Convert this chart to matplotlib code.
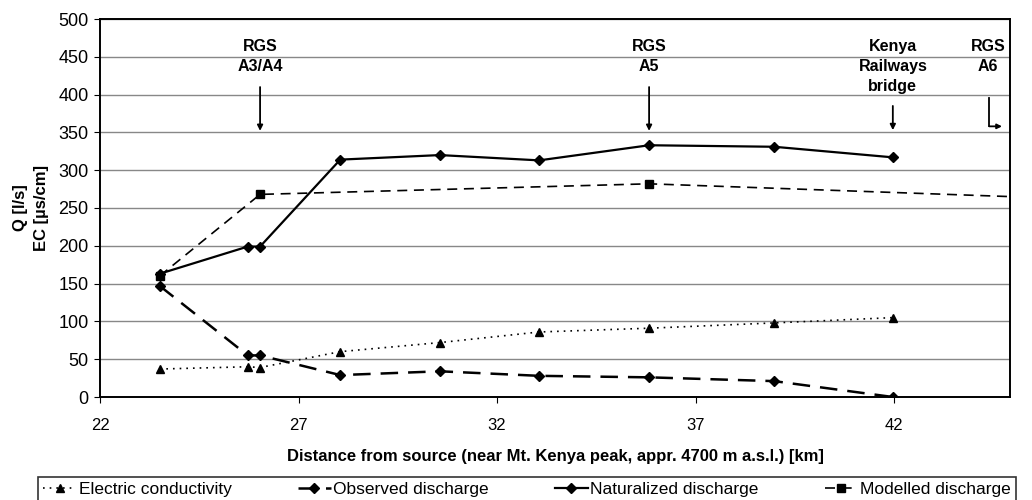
import matplotlib
matplotlib.use("Agg")
import matplotlib.pyplot as plt

plt.rcParams['font.family'] = ['Liberation Sans', 'DejaVu Sans']

# distances along the river [km]
ec_x = [23.5, 25.72, 26.03, 28.05, 30.56, 33.06, 35.83, 38.98, 41.97]
ec_y = [37, 40, 39, 60, 72, 86, 91, 98, 105]

obs_x = [23.5, 25.72, 26.03, 28.05, 30.56, 33.06, 35.83, 38.98, 41.97]
obs_y = [147, 55, 55, 29, 34, 28, 26, 21, 0]

nat_x = [23.5, 25.72, 26.03, 28.05, 30.56, 33.06, 35.83, 38.98, 41.97]
nat_y = [163, 199, 199, 314, 320, 313, 333, 331, 317]

mod_x = [23.5, 26.03, 35.83, 45.5]
mod_y = [160, 268, 282, 264]

# station labels: (x, text, arrow start, arrow end)
stations = [
    (26.03, "RGS\nA3/A4", 410, 352),
    (35.83, "RGS\nA5", 410, 352),
    (41.97, "Kenya\nRailways\nbridge", 385, 353),
]

fig = plt.figure(figsize=(10.32, 5.0), dpi=100)
ax = fig.add_axes([0.097, 0.206, 0.882, 0.756])

ax.plot(ec_x, ec_y, color='black', linestyle=(0, (1, 3)), lw=1.2,
        marker='^', markersize=6, label='Electric conductivity')
ax.plot(obs_x, obs_y, color='black', linestyle=(0, (7, 4)), lw=1.8,
        marker='D', markersize=5, label='Observed discharge')
ax.plot(nat_x, nat_y, color='black', linestyle='-', lw=1.6,
        marker='D', markersize=5, label='Naturalized discharge')
ax.plot(mod_x, mod_y, color='black', linestyle=(0, (6, 4)), lw=1.2,
        marker='s', markersize=6, label='Modelled discharge')

for x, txt, y0, y1 in stations:
    ax.annotate('', xy=(x, y1), xytext=(x, y0),
                arrowprops=dict(arrowstyle='-|>', color='black', lw=1.3,
                                mutation_scale=8, shrinkA=0, shrinkB=0))
    ax.text(x, 474, txt, ha='center', va='top', fontsize=11.5,
            fontweight='bold', linespacing=1.42)

# RGS A6 lies beyond the right edge
ax.text(44.37, 474, "RGS\nA6", ha='center', va='top', fontsize=11.5,
        fontweight='bold', linespacing=1.42)
ax.plot([44.4, 44.4], [395, 358], color='black', lw=1.3)
ax.annotate('', xy=(44.72, 358), xytext=(44.4, 358),
            arrowprops=dict(arrowstyle='-|>', color='black', lw=1.3,
                            mutation_scale=7, shrinkA=0, shrinkB=0))

ax.set_xlim(22, 44.93)
ax.set_ylim(0, 500)
ax.set_xticks([22, 27, 32, 37, 42])
ax.set_yticks(range(0, 501, 50))
ax.yaxis.grid(True, color='#888888', lw=1.0)
ax.set_axisbelow(True)
ax.tick_params(direction='out', length=4.3, color='black')
ax.tick_params(axis='x', labelsize=12, pad=11)
ax.tick_params(axis='y', labelsize=13, pad=4)
for s in ax.spines.values():
    s.set_color('black')
    s.set_linewidth(1.4)

ax.set_ylabel("Q [l/s]\nEC [µs/cm]", fontsize=12, fontweight='bold',
              linespacing=1.45, labelpad=7)
ax.set_xlabel("Distance from source (near Mt. Kenya peak, appr. 4700 m a.s.l.) [km]",
              fontsize=12, fontweight='bold', labelpad=11)

leg = fig.legend(loc='upper left', bbox_to_anchor=(38 / 1032, 1 - 477 / 500),
                 ncol=4, fontsize=12.5, frameon=True, fancybox=False,
                 edgecolor='black', handlelength=1.9, handletextpad=0.15,
                 columnspacing=3.8, borderpad=0.3, borderaxespad=0)
leg.get_frame().set_linewidth(1.2)

fig.savefig("out.png", dpi=100)
